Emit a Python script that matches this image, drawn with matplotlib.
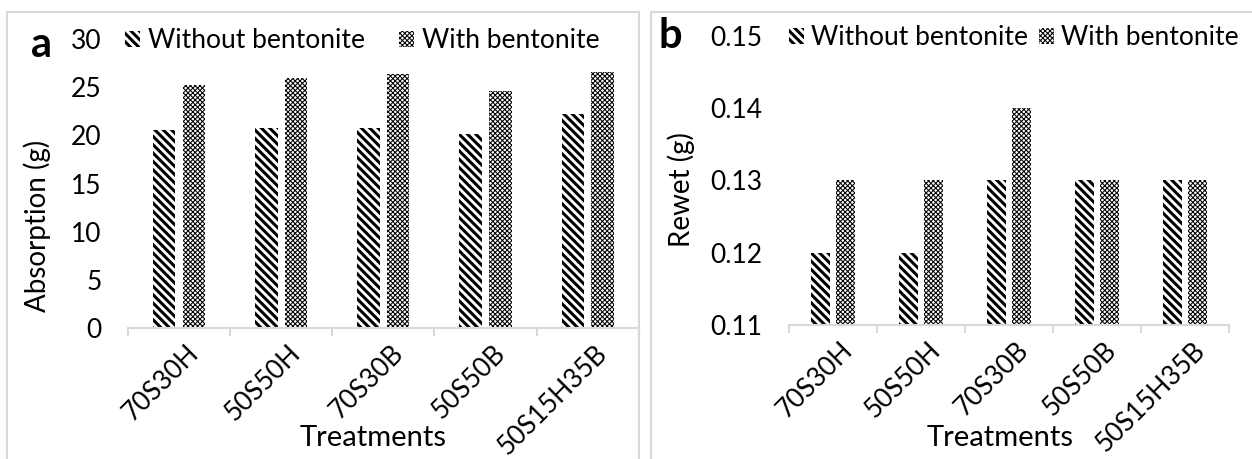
import numpy as np
import matplotlib.pyplot as plt
import matplotlib.transforms as mtransforms
from matplotlib.patches import Rectangle

plt.rcParams['font.family'] = ['Lato', 'DejaVu Sans']
plt.rcParams['hatch.linewidth'] = 2.2

# data
treatments = ['70S30H', '50S50H', '70S30B', '50S50B', '50S15H35B']
absorption_without = [20.6, 20.8, 20.8, 20.1, 22.2]
absorption_with = [25.2, 26.0, 26.4, 24.6, 26.6]
rewet_without = [0.12, 0.12, 0.13, 0.13, 0.13]
rewet_with = [0.13, 0.13, 0.14, 0.13, 0.13]
series_names = ['Without bentonite', 'With bentonite']

fig = plt.figure(figsize=(12.52, 4.59), dpi=100)

# gray panel frames like the Excel chart areas
for x0, x1 in [(0.0056, 0.5104), (0.5200, 1.02)]:
    fig.add_artist(Rectangle((x0, -0.05), x1 - x0, 0.974 + 0.05,
                             transform=fig.transFigure, fill=False,
                             edgecolor='#d9d9d9', linewidth=1.5))

ax1 = fig.add_axes([0.1022, 0.2854, 0.408, 0.6296])
ax2 = fig.add_axes([0.6302, 0.2920, 0.3514, 0.6296])

x = np.arange(len(treatments))
w = 0.22
off = 0.145


def draw(ax, without, withb, ylim, yticks, ylabel, ylab_xy, xlab_y, leg_x, colsp):
    ax.bar(x - off, np.array(without) - ylim[0], w, bottom=ylim[0], color='white',
           edgecolor='black', linewidth=0, hatch='\\\\\\\\', label=series_names[0])
    ax.bar(x + off, np.array(withb) - ylim[0], w, bottom=ylim[0], color='white',
           edgecolor='black', linewidth=0, hatch='xxxxxxx', label=series_names[1],
           hatch_linewidth=0.75)
    ax.set_xlim(-0.5, len(treatments) - 0.5)
    ax.set_ylim(*ylim)
    ax.set_yticks(yticks)
    for s in ['top', 'right', 'left']:
        ax.spines[s].set_visible(False)
    ax.spines['bottom'].set_color('#d9d9d9')
    ax.spines['bottom'].set_linewidth(1.5)
    ax.tick_params(axis='y', length=0, pad=19, labelsize=19)
    ax.set_xticks(x)
    ax.set_xticklabels(treatments, rotation=45, ha='right', rotation_mode='anchor',
                       fontsize=19)
    ax.tick_params(axis='x', which='major', length=0, pad=9)
    shift = mtransforms.ScaledTranslation(7 / 100, 0, fig.dpi_scale_trans)
    for lab in ax.get_xticklabels():
        lab.set_transform(lab.get_transform() + shift)
    ax.set_xticks(np.arange(-0.5, len(treatments)), minor=True)
    ax.tick_params(axis='x', which='minor', length=6, width=1.5, color='#d9d9d9')
    ax.set_xlabel('Treatments', fontsize=21)
    ax.xaxis.set_label_coords(0.48, xlab_y)
    ax.set_ylabel(ylabel, fontsize=20)
    ax.yaxis.set_label_coords(*ylab_xy)
    leg = ax.legend(loc='center left', bbox_to_anchor=(leg_x, 0.995), ncol=2,
                    frameon=False, fontsize=19, handlelength=0.55, handleheight=0.55,
                    handletextpad=0.3, columnspacing=colsp, borderaxespad=0,
                    borderpad=0)
    leg.legend_handles[1].set_hatch_linewidth(0.75)


draw(ax1, absorption_without, absorption_with, (0, 30), np.arange(0, 31, 5),
     'Absorption (g)', (-0.15, 0.353), -0.335, -0.005, 1.3)
draw(ax2, rewet_without, rewet_with, (0.11, 0.15), [0.11, 0.12, 0.13, 0.14, 0.15],
     'Rewet (g)', (-0.214, 0.47), -0.345, 0.0, 0.4)
ax2.set_yticklabels(['0.11', '0.12', '0.13', '0.14', '0.15'])

fig.text(42 / 1252, 1 - 45 / 459, 'a', fontsize=30, fontweight='bold',
         ha='center', va='center')
fig.text(670 / 1252, 1 - 36 / 459, 'b', fontsize=30, fontweight='bold',
         ha='center', va='center')

fig.savefig('out.png', dpi=100)
